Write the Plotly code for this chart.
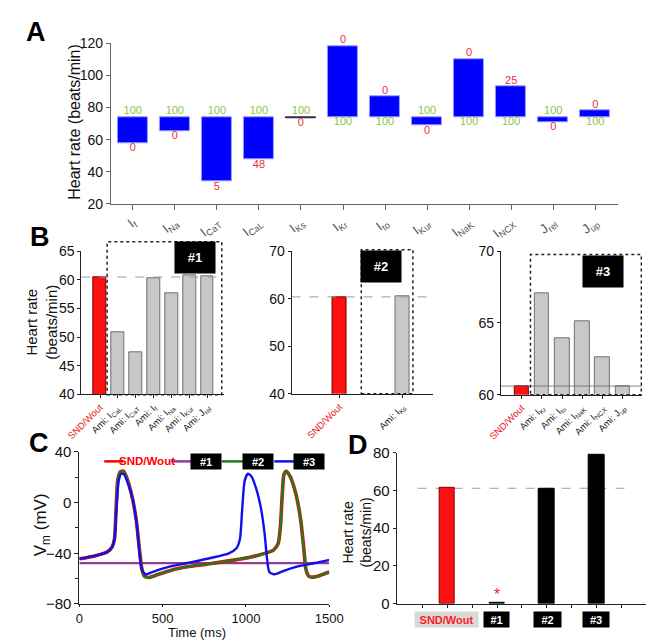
import plotly.graph_objects as go

W, H = 654, 640
FONT = "Arial, 'Liberation Sans', sans-serif"

# ---------------- data ----------------
# Panel A
a_currents = ["I<sub>f</sub>", "I<sub>Na</sub>", "I<sub>CaT</sub>", "I<sub>CaL</sub>", "I<sub>Ks</sub>",
              "I<sub>Kr</sub>", "I<sub>to</sub>", "I<sub>Kur</sub>", "I<sub>NaK</sub>", "I<sub>NCX</sub>",
              "J<sub>rel</sub>", "J<sub>up</sub>"]
a_control_rate = 74.0
a_rate = [58.0, 65.3, 34.0, 47.5, 73.6, 118.4, 87.0, 68.7, 110.3, 93.0, 71.0, 78.2]
a_min_pct = ["0", "0", "5", "48", "0", "0", "0", "0", "0", "25", "0", "0"]
a_max_pct = "100"

# Panel B
b1_labels = ["SND/Wout", "Ami: I<sub>CaL</sub>", "Ami: I<sub>CaT</sub>", "Ami: I<sub>f</sub>",
             "Ami: I<sub>Na</sub>", "Ami: I<sub>Kur</sub>", "Ami: J<sub>rel</sub>"]
b1_rate = [60.5, 50.9, 47.3, 60.2, 57.6, 60.8, 60.6]
b2_labels = ["SND/Wout", "Ami: I<sub>Ks</sub>"]
b2_rate = [60.4, 60.5]
b3_labels = ["SND/Wout", "Ami: I<sub>Kr</sub>", "Ami: I<sub>to</sub>", "Ami: I<sub>NaK</sub>",
             "Ami: I<sub>NCX</sub>", "Ami: J<sub>up</sub>"]
b3_rate = [60.6, 67.1, 63.9, 65.1, 62.6, 60.6]

# Panel C (time in ms, Vm in mV)
c_time_snd = [0, 92, 169, 197, 211, 220, 230, 245, 264, 284, 312, 341, 360, 374, 389, 418, 475, 552,
              648, 743, 839, 935, 1031, 1107, 1165, 1193, 1207, 1218, 1228, 1241, 1264, 1299, 1328,
              1347, 1360, 1379, 1414, 1452, 1500]
c_vm_snd = [-44.4, -42.1, -38.8, -35.0, -28.6, -5.8, 17.1, 24.2, 24.7, 19.7, 7.0, -13.4, -36.3, -51.5,
            -57.9, -59.1, -56.6, -53.3, -50.7, -49.0, -47.2, -45.2, -42.9, -40.3, -37.5, -32.4, -18.5,
            7.0, 22.2, 24.7, 20.9, 7.0, -13.4, -36.3, -52.8, -58.4, -58.6, -57.1, -54.8]
c_time_2 = [0, 92, 169, 197, 211, 220, 230, 245, 264, 284, 312, 341, 360, 374, 389, 418, 475, 552,
            648, 743, 839, 935, 1031, 1107, 1165, 1193, 1207, 1218, 1228, 1241, 1264, 1299, 1328,
            1347, 1360, 1379, 1414, 1452, 1500]
c_vm_2 = [-44.4, -42.1, -38.8, -35.0, -28.6, -5.8, 17.1, 24.2, 24.7, 19.7, 7.0, -13.4, -36.3, -51.5,
          -57.9, -59.1, -56.6, -53.3, -50.7, -49.0, -47.2, -45.2, -42.9, -40.3, -37.5, -32.4, -18.5,
          7.0, 22.2, 24.7, 20.9, 7.0, -13.4, -36.3, -52.8, -58.4, -58.6, -57.1, -54.8]
c_time_3 = [0, 92, 169, 197, 211, 222, 236, 251, 268, 293, 322, 345, 360, 374, 398, 437, 513, 648,
            782, 897, 944, 964, 977, 992, 1011, 1031, 1059, 1088, 1111, 1126, 1140, 1169, 1222, 1318,
            1414, 1500]
c_vm_3 = [-44.4, -42.1, -38.8, -35.0, -28.6, -5.8, 17.1, 22.7, 22.2, 14.6, 1.9, -18.5, -38.8, -52.8,
          -56.6, -54.8, -51.5, -47.7, -43.9, -40.1, -35.8, -28.6, -5.8, 17.1, 22.7, 20.9, 12.0, -3.2,
          -23.6, -43.9, -54.8, -56.6, -54.1, -50.2, -47.7, -45.2]
c_time_1 = [0, 1500]
c_vm_1 = [-47.7, -47.7]

# Panel D
d_labels = ["SND/Wout", "#1", "#2", "#3"]
d_rate = [61.2, 0.5, 61.0, 79.2]

# ---------------- helpers ----------------
def xdom(x0, x1):
    return [x0 / W, x1 / W]

def ydom(y_top, y_bot):
    return [1 - y_bot / H, 1 - y_top / H]

def px(x):
    return x / W

def py(y):
    return 1 - y / H

RED = "#ff1010"
GREEN_TXT = "#8cc63f"
RED_TXT = "#e8303a"

fig = go.Figure()

# ---------------- Panel A ----------------
a_delta = [v - a_control_rate for v in a_rate]
a_line_cols = ["#333333" if abs(d) < 1 else "#9a9aff" for d in a_delta]
fig.add_trace(go.Bar(x=a_currents, y=a_delta, base=a_control_rate, width=0.72,
                     marker=dict(color="#0000ff", line=dict(color=a_line_cols, width=1)),
                     xaxis="x", yaxis="y", showlegend=False))
upper_y, upper_t, upper_c, lower_y, lower_t, lower_c = [], [], [], [], [], []
for v, p in zip(a_rate, a_min_pct):
    if v > a_control_rate + 0.5:
        upper_y.append(v); upper_t.append(p); upper_c.append(RED_TXT)
        lower_y.append(a_control_rate); lower_t.append(a_max_pct); lower_c.append(GREEN_TXT)
    else:
        upper_y.append(a_control_rate); upper_t.append(a_max_pct); upper_c.append(GREEN_TXT)
        lower_y.append(v); lower_t.append(p); lower_c.append(RED_TXT)
fig.add_trace(go.Scatter(x=a_currents, y=upper_y, text=upper_t, mode="text", textposition="top center",
                         textfont=dict(color=upper_c, size=11, family=FONT), cliponaxis=False,
                         xaxis="x", yaxis="y", showlegend=False))
fig.add_trace(go.Scatter(x=a_currents, y=lower_y, text=lower_t, mode="text", textposition="bottom center",
                         textfont=dict(color=lower_c, size=11, family=FONT), cliponaxis=False,
                         xaxis="x", yaxis="y", showlegend=False))

# ---------------- Panel B ----------------
def b_colors(n):
    return [RED] + ["#c8c8c8"] * (n - 1), ["#7a0000"] + ["#707070"] * (n - 1)

def b_ticktext(labels):
    out = []
    for l in labels:
        if l == "SND/Wout":
            out.append('<span style="color:#e8202a">SND/Wout</span>')
        else:
            out.append(l)
    return out

b1_x = list(range(len(b1_rate)))
fc, lc = b_colors(len(b1_rate))
fig.add_trace(go.Bar(x=b1_x, y=b1_rate, width=0.71, marker=dict(color=fc, line=dict(color=lc, width=1)),
                     xaxis="x2", yaxis="y2", showlegend=False))
b2_x = [1, 3]
fc, lc = b_colors(len(b2_rate))
fig.add_trace(go.Bar(x=b2_x, y=b2_rate, width=0.42, marker=dict(color=fc, line=dict(color=lc, width=1)),
                     xaxis="x3", yaxis="y3", showlegend=False))
b3_x = list(range(len(b3_rate)))
fc, lc = b_colors(len(b3_rate))
fig.add_trace(go.Bar(x=b3_x, y=b3_rate, width=0.72, marker=dict(color=fc, line=dict(color=lc, width=1)),
                     xaxis="x4", yaxis="y4", showlegend=False))

# ---------------- Panel C ----------------
fig.add_trace(go.Scatter(x=c_time_1, y=c_vm_1, mode="lines", line=dict(color="#953a95", width=2.2),
                         xaxis="x5", yaxis="y5", showlegend=False))
fig.add_trace(go.Scatter(x=c_time_snd, y=c_vm_snd, mode="lines", line=dict(color="#ff0000", width=3.6, shape="spline", smoothing=0.6),
                         xaxis="x5", yaxis="y5", showlegend=False))
fig.add_trace(go.Scatter(x=c_time_2, y=c_vm_2, mode="lines", line=dict(color="#1e7b1e", width=2.4, shape="spline", smoothing=0.6),
                         xaxis="x5", yaxis="y5", showlegend=False))
fig.add_trace(go.Scatter(x=c_time_3, y=c_vm_3, mode="lines", line=dict(color="#1010ee", width=2.4, shape="spline", smoothing=0.6),
                         xaxis="x5", yaxis="y5", showlegend=False))

# ---------------- Panel D ----------------
d_x = list(range(len(d_rate)))
fig.add_trace(go.Bar(x=d_x, y=d_rate, width=0.31,
                     marker=dict(color=[RED, "#000000", "#000000", "#000000"],
                                 line=dict(color=["#7a0000", "#000", "#000", "#000"], width=1)),
                     xaxis="x6", yaxis="y6", showlegend=False))

# ---------------- axes ----------------
def ax(**kw):
    base = dict(showgrid=False, zeroline=False, showline=True, linecolor="#222", linewidth=1,
                ticks="outside", ticklen=4, tickcolor="#222", tickfont=dict(family=FONT, size=14, color="#111"),
                fixedrange=True)
    base.update(kw)
    return base

BTICK = dict(family=FONT, size=9.5, color="#222")

layout = dict(
    width=W, height=H, margin=dict(l=0, r=0, t=0, b=0),
    paper_bgcolor="white", plot_bgcolor="white", bargap=0, showlegend=False,
    font=dict(family=FONT),
    xaxis=ax(domain=xdom(92, 623), anchor="y", type="category", range=[-0.52, 11.55],
             linecolor="#666", tickcolor="#666", ticklen=5, tickangle=-38,
             tickfont=dict(family=FONT, size=13, color="#555")),
    yaxis=ax(domain=ydom(27, 192), anchor="x", range=[20, 120], dtick=20, linecolor="#666", tickcolor="#666"),
    xaxis2=ax(domain=xdom(61, 210), anchor="y2", range=[-1.05, 6.91], tickvals=b1_x,
              ticktext=b_ticktext(b1_labels), tickangle=-45, ticklen=3, tickfont=BTICK),
    yaxis2=ax(domain=ydom(240.7, 387.5), anchor="x2", range=[40, 65], dtick=5, ticklen=3),
    xaxis3=ax(domain=xdom(281, 429), anchor="y3", range=[-0.52, 3.97], tickvals=b2_x,
              ticktext=b_ticktext(b2_labels), tickangle=-45, ticklen=3, tickfont=BTICK),
    yaxis3=ax(domain=ydom(240.7, 387.0), anchor="x3", range=[40, 70], dtick=10, ticklen=3),
    xaxis4=ax(domain=xdom(500, 648), anchor="y4", range=[-1.04, 5.97], tickvals=b3_x,
              ticktext=b_ticktext(b3_labels), tickangle=-45, ticklen=3, tickfont=BTICK),
    yaxis4=ax(domain=ydom(240.7, 388.0), anchor="x4", range=[60, 70], dtick=5, ticklen=3),
    xaxis5=ax(domain=xdom(59, 320.5), anchor="y5", range=[0, 1500], tickvals=[0, 500, 1000, 1500],
              ticklen=2, tickfont=dict(family=FONT, size=13, color="#111")),
    yaxis5=ax(domain=ydom(446.7, 603.0), anchor="x5", range=[-80, 40], tickvals=[-80, -40, 0, 40],
              tickfont=dict(family=FONT, size=15, color="#111"),
              minor=dict(ticks="outside", tickvals=[-60, -20, 20], ticklen=3, tickcolor="#222")),
    xaxis6=ax(domain=xdom(391, 652.7), anchor="y6", range=[-1.02, 4.01],
              tickvals=[-0.5, 0, 0.5, 1, 1.5, 2, 2.5, 3, 3.5], showticklabels=False, ticklen=3),
    yaxis6=ax(domain=ydom(447.7, 602.7), anchor="x6", range=[0, 80], dtick=20, ticklen=3,
              tickfont=dict(family=FONT, size=15, color="#111")),
)

shapes = []
annotations = []

# reference lines (control rate)
shapes.append(dict(type="line", xref="x2", yref="y2", x0=-1.05, x1=6.91, y0=b1_rate[0], y1=b1_rate[0],
                   line=dict(color="#9a9a9a", width=1, dash="dash"), layer="above"))
shapes.append(dict(type="line", xref="x3", yref="y3", x0=-0.52, x1=3.97, y0=b2_rate[0], y1=b2_rate[0],
                   line=dict(color="#9a9a9a", width=1, dash="dash"), layer="above"))
shapes.append(dict(type="line", xref="x4", yref="y4", x0=-1.04, x1=5.97, y0=b3_rate[0], y1=b3_rate[0],
                   line=dict(color="#666666", width=0.8), layer="above"))
shapes.append(dict(type="line", xref="x6", yref="y6", x0=-0.6, x1=3.67, y0=d_rate[0], y1=d_rate[0],
                   line=dict(color="#a0a0a0", width=1, dash="dash"), layer="below"))

# dashed group boxes in B
for (x0, x1, y0, y1) in [(88, 208, 231, 388), (354, 408, 239, 387), (531, 647, 244, 388)]:
    shapes.append(dict(type="rect", xref="paper", yref="paper", x0=px(x0), x1=px(x1), y0=py(y1), y1=py(y0),
                       line=dict(color="#222", width=1.5, dash="dot"), layer="above"))

def tag(text, cx, cy, w, h, size=12, bg="black", color="white"):
    annotations.append(dict(xref="paper", yref="paper", x=px(cx), y=py(cy), text="<b>%s</b>" % text,
                            showarrow=False, bgcolor=bg, width=w, height=h, borderpad=0,
                            xanchor="center", yanchor="middle",
                            font=dict(family=FONT, size=size, color=color)))

tag("#1", 180, 247.5, 40, 31, size=13)
tag("#2", 375, 256.5, 40, 31, size=13)
tag("#3", 607, 261, 40, 31, size=13)

# Panel C legend
legend_y = 456.5
for (x0, x1, col) in [(85, 105, "#ff0000"), (155, 177, "#953a95"), (208, 231, "#1e7b1e"), (263, 284, "#1010ee")]:
    shapes.append(dict(type="line", xref="paper", yref="paper", x0=px(x0), x1=px(x1),
                       y0=py(legend_y), y1=py(legend_y), line=dict(color=col, width=2.5)))
annotations.append(dict(xref="paper", yref="paper", x=px(129.5), y=py(legend_y), text="<b>SND/Wout</b>",
                        showarrow=False, xanchor="center", yanchor="middle",
                        font=dict(family=FONT, size=11.5, color="#ff0000")))
tag("#1", 192, legend_y, 30, 15, size=11)
tag("#2", 246, legend_y, 30, 15, size=11)
tag("#3", 299, legend_y, 30, 15, size=11)

# Panel D category labels
tag("SND/Wout", 443.5, 619.2, 63, 15, size=11, bg="#d9d9d9", color="#ff1a1a")
tag("#1", 495.5, 619.2, 25, 15, size=11)
tag("#2", 548.5, 619.2, 27, 15, size=11)
tag("#3", 600, 619.2, 26, 15, size=11)
annotations.append(dict(xref="x6", yref="y6", x=1, y=d_rate[1], text="*", showarrow=False,
                        yanchor="bottom", yshift=-2, font=dict(family=FONT, size=16, color="#ff1a1a")))

# panel letters
for (t, cx, cy) in [("A", 14, 15), ("B", 18, 226), ("C", 17, 438), ("D", 351, 440)]:
    annotations.append(dict(xref="paper", yref="paper", x=px(cx), y=py(cy), text="<b>%s</b>" % t,
                            showarrow=False, xanchor="center", yanchor="middle",
                            font=dict(family=FONT, size=27, color="black")))

# axis titles
def title(text, cx, cy, size, angle=-90):
    annotations.append(dict(xref="paper", yref="paper", x=px(cx), y=py(cy), text=text, showarrow=False,
                            textangle=angle, xanchor="center", yanchor="middle",
                            font=dict(family=FONT, size=size, color="#111")))

title("Heart rate (beats/min)", 53, 108, 16)
title("Heart rate<br>(beats/min)", 20, 314, 15)
title("V<sub>m</sub> (mV)", 20, 522, 17)
title("Time (ms)", 182, 632.5, 13, angle=0)
title("Heart rate<br>(beats/min)", 349, 530, 14)

layout["shapes"] = shapes
layout["annotations"] = annotations
fig.update_layout(**layout)
fig.write_html("out.html")
